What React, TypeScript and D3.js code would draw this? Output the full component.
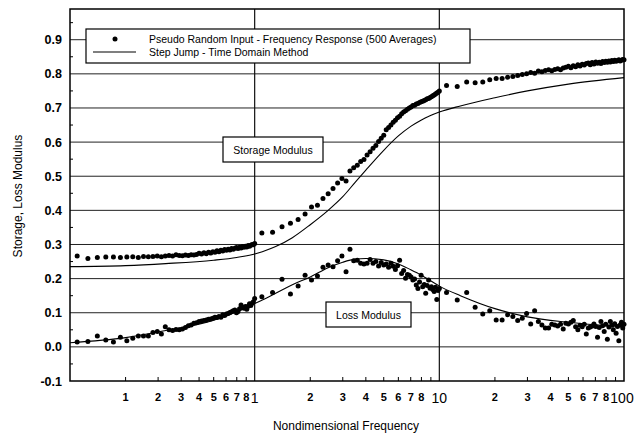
import React from "react";
import * as d3 from "d3";

// FFT bin indices used in each decade (f = base * bin / 6.4)
const FFT_BINS = [
  7, 8, 9, 10, 11, 12, 13, 14, 15, 16, 17, 18, 19, 20, 21, 22, 23, 24, 25, 26,
  27, 28, 29, 30, 31, 32, 33, 34, 35, 36, 37, 38, 39, 40, 41, 42, 43, 44, 45,
  46, 47, 48, 49, 50, 51, 52, 53, 54, 55, 56, 57, 58, 59, 60, 61, 62, 63, 64,
];
const DECADE_BASE = [0.1, 1, 10];

// pseudo random input - storage modulus, one array per decade
const STORAGE_D1 = [
  0.266, 0.259, 0.262, 0.263, 0.263, 0.262, 0.263, 0.264, 0.262, 0.265,
  0.264, 0.265, 0.266, 0.264, 0.266, 0.268, 0.266, 0.27, 0.268, 0.267,
  0.269, 0.268, 0.27, 0.269, 0.271, 0.274, 0.272, 0.276, 0.273, 0.277,
  0.275, 0.279, 0.277, 0.282, 0.279, 0.283, 0.281, 0.285, 0.283, 0.286,
  0.284, 0.288, 0.286, 0.289, 0.291, 0.288, 0.292, 0.29, 0.294, 0.292,
  0.295, 0.293, 0.297, 0.295, 0.298, 0.3, 0.299, 0.303,
];
const STORAGE_D2 = [
  0.334, 0.336, 0.352, 0.362, 0.373, 0.389, 0.41, 0.415, 0.435, 0.449,
  0.464, 0.48, 0.493, 0.486, 0.515, 0.525, 0.532, 0.543, 0.549, 0.562,
  0.572, 0.582, 0.59, 0.602, 0.611, 0.62, 0.636, 0.643, 0.65, 0.658,
  0.664, 0.671, 0.676, 0.683, 0.688, 0.692, 0.696, 0.7, 0.703, 0.707,
  0.708, 0.712, 0.713, 0.716, 0.718, 0.72, 0.722, 0.724, 0.727, 0.728,
  0.731, 0.733, 0.736, 0.738, 0.741, 0.744, 0.746, 0.75,
];
const STORAGE_D3 = [
  0.766, 0.763, 0.776, 0.774, 0.776, 0.783, 0.786, 0.786, 0.79, 0.792,
  0.795, 0.798, 0.8, 0.804, 0.802, 0.808, 0.806, 0.81, 0.812, 0.809,
  0.813, 0.815, 0.812, 0.817, 0.819, 0.822, 0.818, 0.824, 0.821, 0.827,
  0.823, 0.828, 0.826, 0.83, 0.832, 0.827, 0.833, 0.829, 0.835, 0.831,
  0.834, 0.83, 0.836, 0.833, 0.837, 0.834, 0.838, 0.835, 0.839, 0.836,
  0.84, 0.837, 0.839, 0.841, 0.838, 0.84, 0.842, 0.841,
];

// pseudo random input - loss modulus
const LOSS_D1 = [
  0.014, 0.016, 0.032, 0.02, 0.014, 0.028, 0.018, 0.025, 0.032, 0.032,
  0.032, 0.042, 0.045, 0.038, 0.059, 0.05, 0.048, 0.051, 0.05, 0.052,
  0.057, 0.062, 0.064, 0.069, 0.071, 0.074, 0.076, 0.077, 0.079, 0.081,
  0.082, 0.084, 0.087, 0.086, 0.089, 0.087, 0.094, 0.092, 0.096, 0.098,
  0.101, 0.103, 0.106, 0.108, 0.1, 0.104, 0.112, 0.123, 0.116, 0.113,
  0.118, 0.11, 0.119, 0.126, 0.121, 0.128, 0.132, 0.142,
];
const LOSS_D2 = [
  0.147, 0.159, 0.198, 0.155, 0.178, 0.21, 0.196, 0.208, 0.233, 0.24,
  0.235, 0.252, 0.266, 0.22, 0.286, 0.252, 0.254, 0.245, 0.243, 0.245,
  0.256, 0.245, 0.25, 0.237, 0.247, 0.24, 0.243, 0.233, 0.245, 0.236,
  0.227, 0.238, 0.254, 0.215, 0.224, 0.201, 0.212, 0.21, 0.205, 0.196,
  0.199, 0.181, 0.171, 0.19, 0.21, 0.176, 0.183, 0.157, 0.18, 0.196,
  0.172, 0.176, 0.168, 0.162, 0.175, 0.139, 0.165, 0.171,
];
const LOSS_D3 = [
  0.159, 0.137, 0.159, 0.116, 0.096, 0.106, 0.079, 0.079, 0.094, 0.089,
  0.077, 0.084, 0.098, 0.067, 0.106, 0.074, 0.064, 0.055, 0.055, 0.066,
  0.064, 0.061, 0.066, 0.052, 0.069, 0.067, 0.072, 0.077, 0.059, 0.05,
  0.063, 0.059, 0.066, 0.038, 0.055, 0.058, 0.061, 0.067, 0.06, 0.028,
  0.057, 0.074, 0.062, 0.045, 0.066, 0.022, 0.058, 0.074, 0.063, 0.05,
  0.068, 0.04, 0.06, 0.018, 0.064, 0.072, 0.055, 0.066,
];

// step jump - time domain method
const STEP_FREQ = [0.1, 0.2, 0.33, 0.6, 0.8, 1, 1.1, 1.3, 1.6, 2, 2.5, 3, 3.5, 4, 5, 6, 7, 8, 10, 13, 20, 30, 50, 100];
const STEP_STORAGE = [0.235, 0.238, 0.244, 0.254, 0.262, 0.272, 0.279, 0.294, 0.32, 0.358, 0.4, 0.44, 0.482, 0.518, 0.576, 0.618, 0.646, 0.665, 0.688, 0.706, 0.73, 0.75, 0.77, 0.789];
const STEP_LOSS = [0.012, 0.027, 0.048, 0.078, 0.103, 0.127, 0.137, 0.157, 0.182, 0.205, 0.232, 0.248, 0.257, 0.259, 0.255, 0.243, 0.226, 0.21, 0.178, 0.15, 0.112, 0.088, 0.072, 0.058];

const Y_TICKS = [-0.1, 0.0, 0.1, 0.2, 0.3, 0.4, 0.5, 0.6, 0.7, 0.8, 0.9];
const Y_MINOR = [-0.05, 0.05, 0.15, 0.25, 0.35, 0.45, 0.55, 0.65, 0.75, 0.85, 0.95];
const X_MINOR = [0.2, 0.3, 0.4, 0.5, 0.6, 0.7, 0.8, 0.9, 2, 3, 4, 5, 6, 7, 8, 9, 20, 30, 40, 50, 60, 70, 80, 90];
// the first decade's digits sit one step to the right in the original figure
const X_LABEL_VALUES = [0.2, 0.3, 0.4, 0.5, 0.6, 0.7, 0.8, 0.9, 2, 3, 4, 5, 6, 7, 8, 20, 30, 40, 50, 60, 70, 80];
const X_LABELS = ["1", "2", "3", "4", "5", "6", "7", "8", "2", "3", "4", "5", "6", "7", "8", "2", "3", "4", "5", "6", "7", "8"];
const X_DECADES = [1, 10, 100];
const X_DECADE_LABELS = ["1", "10", "100"];

const W = 642;
const H = 435;
const M = { left: 70, right: 624, top: 9, bottom: 381 };
const FONT = "'Liberation Sans', Arial, sans-serif";

export default function App() {
  const x = d3.scaleLog().domain([0.1, 100]).range([M.left, M.right]);
  const y = d3.scaleLinear().domain([-0.1, 0.99]).range([M.bottom, M.top]);

  const toPoints = (decades: number[][]) =>
    decades.flatMap((vals, d) =>
      vals.map((v, i) => ({ f: (DECADE_BASE[d] * FFT_BINS[i]) / 6.4, v }))
    );
  const storagePts = toPoints([STORAGE_D1, STORAGE_D2, STORAGE_D3]);
  const lossPts = toPoints([LOSS_D1, LOSS_D2, LOSS_D3]);

  const line = d3
    .line<number>()
    .x((_, i) => x(STEP_FREQ[i]))
    .y((d) => y(d))
    .curve(d3.curveMonotoneX);

  return (
    <svg
      width={W}
      height={H}
      style={{ position: "absolute", left: 0, top: 0, background: "#fff" }}
      fontFamily={FONT}
    >
      {/* horizontal grid */}
      {Y_TICKS.slice(1).map((t) => (
        <line key={"g" + t} x1={M.left} x2={M.right} y1={y(t)} y2={y(t)} stroke="#222" strokeWidth={1} />
      ))}
      {/* decade lines */}
      {X_DECADES.slice(0, 2).map((t) => (
        <line key={"v" + t} x1={x(t)} x2={x(t)} y1={M.top} y2={M.bottom} stroke="#111" strokeWidth={1.2} />
      ))}
      {/* minor ticks */}
      {Y_MINOR.map((t) => (
        <line key={"ym" + t} x1={M.left} x2={M.left + 3} y1={y(t)} y2={y(t)} stroke="#000" />
      ))}
      {X_MINOR.map((t) => (
        <line key={"xm" + t} x1={x(t)} x2={x(t)} y1={M.bottom} y2={M.bottom - 4} stroke="#000" />
      ))}
      {/* frame */}
      <rect
        x={M.left}
        y={M.top}
        width={M.right - M.left}
        height={M.bottom - M.top}
        fill="none"
        stroke="#000"
        strokeWidth={1.5}
      />

      {/* step jump lines */}
      <path d={line(STEP_STORAGE) || ""} fill="none" stroke="#000" strokeWidth={1.1} />
      <path d={line(STEP_LOSS) || ""} fill="none" stroke="#000" strokeWidth={1.1} />

      {/* pseudo random dots */}
      {storagePts.map((p, i) => (
        <circle key={"s" + i} cx={x(p.f)} cy={y(p.v)} r={2.5} fill="#000" />
      ))}
      {lossPts.map((p, i) => (
        <circle key={"l" + i} cx={x(p.f)} cy={y(p.v)} r={2.5} fill="#000" />
      ))}

      {/* y tick labels */}
      {Y_TICKS.map((t) => (
        <text key={"yt" + t} x={62} y={y(t)} dy="0.36em" textAnchor="end" fontSize={12.5} fontWeight="bold">
          {t.toFixed(1)}
        </text>
      ))}
      {/* x tick labels */}
      {X_LABEL_VALUES.map((t, i) => (
        <text key={"xt" + i} x={x(t)} y={400.5} textAnchor="middle" fontSize={11} fontWeight="bold">
          {X_LABELS[i]}
        </text>
      ))}
      {X_DECADES.map((t, i) => (
        <text key={"xd" + t} x={x(t) + (i === 2 ? -2 : 0)} y={403} textAnchor="middle" fontSize={14}>
          {X_DECADE_LABELS[i]}
        </text>
      ))}

      {/* axis titles */}
      <text x={346} y={430} textAnchor="middle" fontSize={12}>
        Nondimensional Frequency
      </text>
      <text transform="translate(22,196) rotate(-90)" textAnchor="middle" fontSize={12}>
        Storage, Loss Modulus
      </text>

      {/* legend */}
      <rect x={86} y={29} width={384} height={34} fill="#fff" stroke="#000" strokeWidth={1.2} />
      <circle cx={115} cy={39} r={2.5} fill="#000" />
      <text x={149} y={42.5} fontSize={10.5}>
        Pseudo Random Input - Frequency Response (500 Averages)
      </text>
      <line x1={93} x2={136} y1={52} y2={52} stroke="#000" strokeWidth={1.1} />
      <text x={149} y={55.5} fontSize={10.5}>
        Step Jump - Time Domain Method
      </text>

      {/* annotations */}
      <rect x={223} y={137} width={100} height={25} fill="#fff" stroke="#000" strokeWidth={1.2} />
      <text x={273} y={153.5} textAnchor="middle" fontSize={10.5}>
        Storage Modulus
      </text>
      <rect x={326} y={302} width={85} height={25} fill="#fff" stroke="#000" strokeWidth={1.2} />
      <text x={368.5} y={318.5} textAnchor="middle" fontSize={10.5}>
        Loss Modulus
      </text>
    </svg>
  );
}
